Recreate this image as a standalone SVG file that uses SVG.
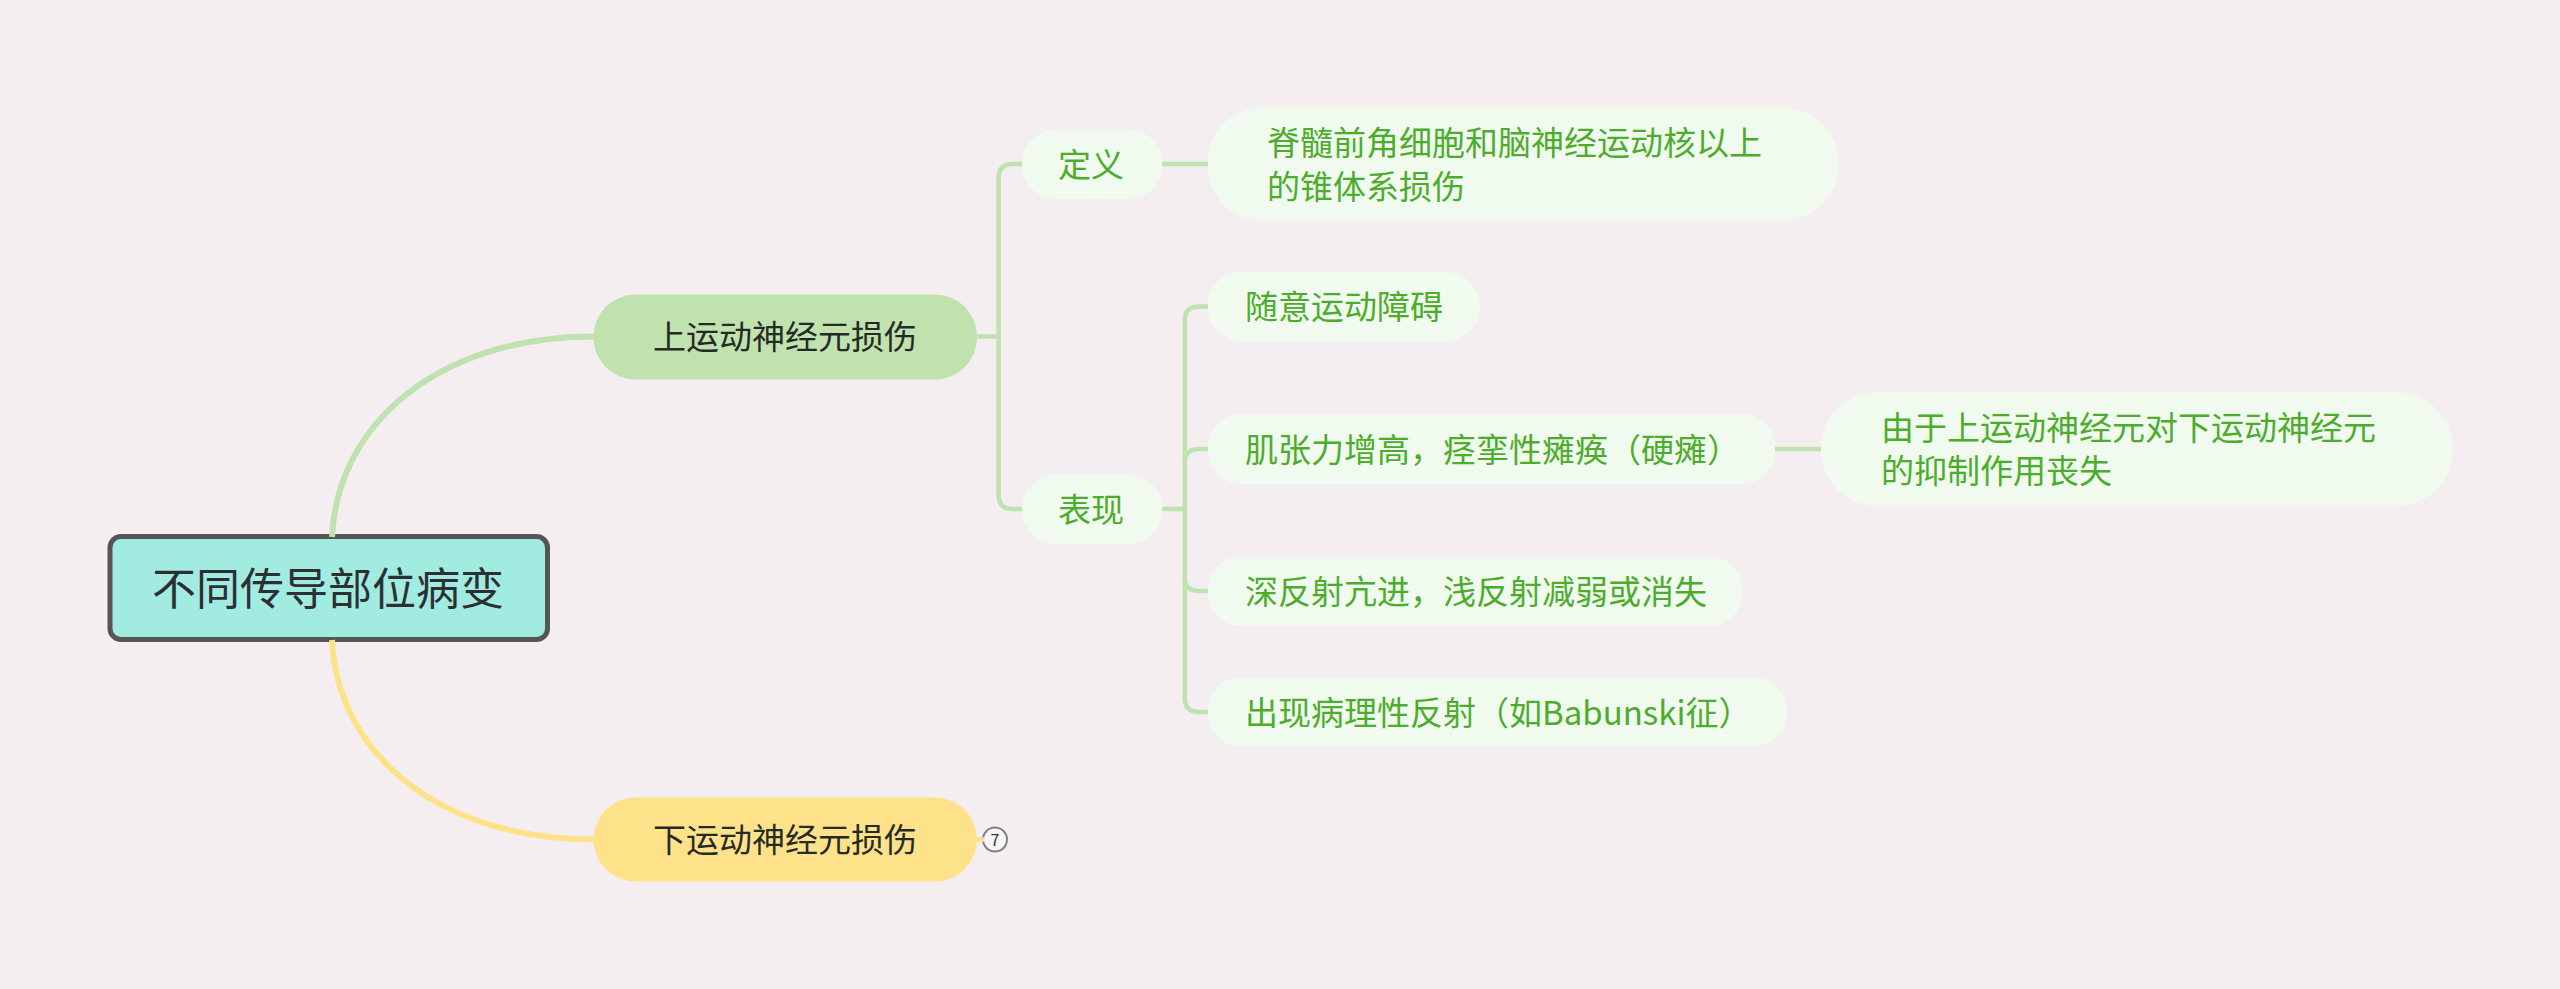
<svg xmlns="http://www.w3.org/2000/svg" width="2560" height="989" viewBox="0 0 2560 989">
<style>
text{font-family:"Noto Sans CJK SC","Noto Sans",sans-serif;}
.t{font-size:33px;fill:#4cad2c;}
.m{font-size:33px;fill:#262a24;text-anchor:middle;}
.n{fill:#f1faee;}
.c{fill:none;stroke:#c0e2b0;stroke-width:4.5;}
.b{fill:none;stroke-width:6;}
</style>
<rect width="2560" height="989" fill="#f5eef0"/>
<g id="root"><rect x="110" y="536.5" width="437.5" height="103" rx="11" fill="#a2ebe1" stroke="#555" stroke-width="5"/><text x="328" y="604.5" font-size="44" fill="#2b3033" text-anchor="middle">不同传导部位病变</text></g>
<g id="upper"><rect x="593.5" y="294.5" width="383.5" height="85" rx="42" fill="#bfe2ae"/><text class="m" x="785" y="349">上运动神经元损伤</text></g>
<g id="lower"><rect x="593.5" y="797.5" width="383.5" height="84" rx="42" fill="#fee28a"/><text class="m" x="785" y="852">下运动神经元损伤</text></g>
<g id="badge"><circle cx="995" cy="839.5" r="12" fill="#f8f5f6" stroke="#808080" stroke-width="2"/><text x="995" y="845.5" font-size="16" fill="#333" text-anchor="middle">7</text></g>
<g id="def"><rect class="n" x="1022" y="129.5" width="140.5" height="69.5" rx="34"/><text class="t" x="1058" y="177">定义</text></g>
<g id="def-text"><rect class="n" x="1207.5" y="107.5" width="631" height="113" rx="55"/><text class="t" x="1267" y="155">脊髓前角细胞和脑神经运动核以上</text><text class="t" x="1267" y="198.5">的锥体系损伤</text></g>
<g id="show"><rect class="n" x="1022" y="474.5" width="140.5" height="69.5" rx="34"/><text class="t" x="1058" y="522">表现</text></g>
<g id="s1"><rect class="n" x="1207.5" y="272" width="272.5" height="69" rx="34"/><text class="t" x="1245" y="319">随意运动障碍</text></g>
<g id="s2"><rect class="n" x="1207.5" y="414" width="568" height="70" rx="34"/><text class="t" x="1245" y="462">肌张力增高，痉挛性瘫痪（硬瘫）</text></g>
<g id="s2a"><rect class="n" x="1821" y="392.5" width="631.5" height="113" rx="55"/><text class="t" x="1881" y="439.5">由于上运动神经元对下运动神经元</text><text class="t" x="1881" y="483">的抑制作用丧失</text></g>
<g id="s3"><rect class="n" x="1207.5" y="556.5" width="535.5" height="69.5" rx="34"/><text class="t" x="1245" y="604">深反射亢进，浅反射减弱或消失</text></g>
<g id="s4"><rect class="n" x="1207.5" y="677" width="579.5" height="69.5" rx="34"/><text class="t" x="1245" y="725">出现病理性反射（如Babunski征）</text></g>
<g id="connectors">
<path class="b" stroke="#c0e2b0" d="M332 537C337 425 437 336.5 594 336.5"/>
<path class="b" stroke="#fee28a" d="M332 640C337 752 437 839.5 594 839.5"/>
<path class="c" d="M977 336.5H998.6"/>
<path class="c" d="M1022 164H1012.6Q998.6 164 998.6 178V495Q998.6 509 1012.6 509H1022"/>
<path class="c" d="M1162 164H1208"/>
<path class="c" d="M1162 509H1185"/>
<path class="c" d="M1208 306.5H1198.8Q1184.8 306.5 1184.8 320.5V698Q1184.8 712 1198.8 712H1208"/>
<path class="c" d="M1208 449H1198.8Q1184.8 449 1184.8 463"/>
<path class="c" d="M1208 591H1198.8Q1184.8 591 1184.8 577"/>
<path class="c" d="M1775 449H1821"/>
<path stroke="#fee28a" stroke-width="4.5" fill="none" d="M977 839.5H984"/>
</g>
</svg>
